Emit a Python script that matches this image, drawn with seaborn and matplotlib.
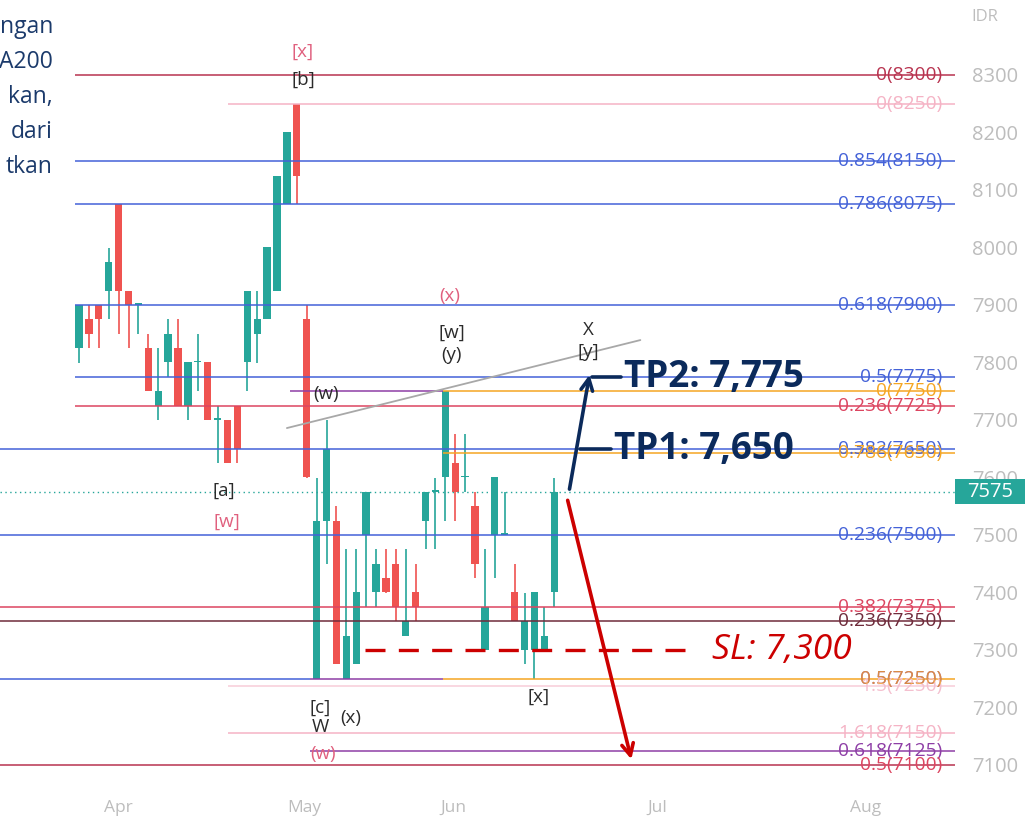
import numpy as np
import pandas as pd
import matplotlib
matplotlib.use("Agg")
import matplotlib.pyplot as plt
import seaborn as sns
from matplotlib.patches import Rectangle

# ---------------- data ----------------
opens  = [7825, 7875, 7900, 7925, 8075, 7925, 7900, 7825, 7725, 7800,
          7825, 7725, 7800, 7800, 7700, 7700, 7725, 7800, 7850, 7875,
          7925, 8075, 8250, 7875, 7250, 7525, 7525, 7250, 7275, 7500,
          7400, 7425, 7450, 7325, 7400, 7525, 7575, 7600, 7625, 7600,
          7550, 7300, 7500, 7500, 7400, 7300, 7300, 7300, 7400]
highs  = [7900, 7900, 7900, 8000, 8075, 7925, 7900, 7850, 7825, 7875,
          7875, 7800, 7850, 7800, 7725, 7700, 7725, 7925, 7925, 8000,
          8125, 8200, 8250, 7900, 7600, 7700, 7550, 7475, 7475, 7575,
          7475, 7475, 7475, 7475, 7450, 7575, 7600, 7750, 7675, 7675,
          7575, 7475, 7600, 7575, 7450, 7400, 7400, 7375, 7600]
lows   = [7800, 7825, 7825, 7875, 7850, 7825, 7850, 7750, 7700, 7775,
          7725, 7700, 7750, 7700, 7625, 7625, 7625, 7750, 7800, 7875,
          7925, 8075, 8075, 7600, 7250, 7450, 7275, 7250, 7275, 7375,
          7375, 7400, 7350, 7325, 7350, 7475, 7475, 7525, 7525, 7575,
          7425, 7300, 7425, 7500, 7350, 7275, 7250, 7300, 7375]
closes = [7900, 7850, 7875, 7975, 7925, 7900, 7900, 7750, 7750, 7850,
          7725, 7800, 7800, 7700, 7700, 7625, 7650, 7925, 7875, 8000,
          8125, 8200, 8125, 7600, 7525, 7650, 7275, 7325, 7400, 7575,
          7450, 7400, 7375, 7350, 7375, 7575, 7575, 7750, 7575, 7600,
          7450, 7375, 7600, 7500, 7350, 7350, 7400, 7325, 7575]

month_labels = ["Apr", "May", "Jun", "Jul", "Aug"]
month_pos = [4.0, 22.8, 37.8, 58.4, 79.5]
y_ticks = list(range(7100, 8301, 100))
last_price = 7575
tp1, tp2, sl = 7650, 7775, 7300

fib_prices = [8300, 8250, 8150, 8075, 7900, 7775, 7750, 7725, 7650, 7643,
              7500, 7375, 7350, 7250, 7237, 7155, 7125, 7100]
fib_labels = ["0(8300)", "0(8250)", "0.854(8150)", "0.786(8075)", "0.618(7900)",
              "0.5(7775)", "0(7750)", "0.236(7725)", "0.382(7650)", "0.786(7650)",
              "0.236(7500)", "0.382(7375)", "0.236(7350)", "0.5(7250)", "1.5(7250)",
              "1.618(7150)", "0.618(7125)", "0.5(7100)"]

trend_x = [21.0, 56.7]
trend_y = [7686, 7839]

left_text = ["ngan", "A200", "kan,", "dari", "tkan"]

# ---------------- layout helpers (pixel calibration) ----------------
W, H = 1025, 819
X0, DX = 79.0, 9.9        # px of first bar, px per bar
Y0, KY = 75.0, 0.575      # px of 8300, px per IDR
def bx(px):
    return (px - X0) / DX
def py(ypx):
    return 8300 - (ypx - Y0) / KY

BLUE = "#4462d8"
RED = "#dc4560"
DRED = "#b8334f"
ORANGE = "#f5a623"
PURPLE = "#8e3ea6"
MAROON = "#6f2b3b"
PINK = "#f5b3c5"
GREEN = "#26a69a"
CRED = "#ef5350"

fib_segments = [
    [(75, 955, DRED)],
    [(228, 955, PINK)],
    [(75, 955, BLUE)],
    [(75, 955, BLUE)],
    [(75, 955, BLUE)],
    [(75, 955, BLUE)],
    [(290, 443, PURPLE), (443, 955, ORANGE)],
    [(75, 955, RED)],
    [(0, 955, BLUE)],
    [(443, 955, ORANGE)],
    [(0, 955, BLUE)],
    [(0, 955, RED)],
    [(0, 955, MAROON)],
    [(0, 310, BLUE), (310, 443, PURPLE), (443, 955, ORANGE)],
    [(228, 955, "#f8cdd8")],
    [(228, 955, PINK)],
    [(310, 955, PURPLE)],
    [(0, 955, DRED)],
]
fib_label_colors = [DRED, PINK, BLUE, BLUE, BLUE, BLUE, ORANGE, RED, BLUE, ORANGE,
                    BLUE, RED, MAROON, PURPLE, "#f4c0cf", PINK, PURPLE, RED]

wave_labels = [
    ("[x]", 303, 52, "#e0607e"), ("[b]", 303, 80, "#2b2b2b"),
    ("(x)", 450, 296, "#e0607e"), ("[w]", 452, 333, "#2b2b2b"),
    ("(y)", 452, 355, "#2b2b2b"), ("X", 588, 330, "#2b2b2b"),
    ("[y]", 588, 352, "#2b2b2b"), ("(w)", 326, 394, "#2b2b2b"),
    ("[a]", 224, 491, "#2b2b2b"), ("[w]", 227, 522, "#e0607e"),
    ("[c]", 320, 708, "#2b2b2b"), ("W", 320, 727, "#2b2b2b"),
    ("(x)", 351, 718, "#2b2b2b"), ("(w)", 323, 754, "#e0607e"),
    ("[x]", 539, 697, "#2b2b2b"),
]

# ---------------- figure ----------------
sns.set_theme(style="white")
plt.rcParams["font.family"] = ["Open Sans", "DejaVu Sans"]

fig = plt.figure(figsize=(W / 100, H / 100), dpi=100)
fig.patch.set_facecolor("white")
ax = fig.add_axes([0, 29 / H, 955 / W, 790 / H])
ax.set_facecolor("white")

df = pd.DataFrame({"o": opens, "h": highs, "l": lows, "c": closes})
df["i"] = np.arange(len(df))
df["col"] = np.where(df["c"] >= df["o"], GREEN, CRED)
df["bot"] = df[["o", "c"]].min(axis=1)
df["hgt"] = (df["c"] - df["o"]).abs().clip(lower=3)

ax.vlines(df["i"], df["l"], df["h"], colors=df["col"], lw=1.2, zorder=2)
ax.bar(df["i"], df["hgt"], bottom=df["bot"], width=0.74, color=df["col"],
       linewidth=0, zorder=3)

# fib levels
for price, segs in zip(fib_prices, fib_segments):
    for x1, x2, col in segs:
        ax.plot([bx(x1), bx(x2)], [price, price], color=col, lw=1.1, zorder=4,
                solid_capstyle="butt")
for price, lab, col in zip(fib_prices, fib_labels, fib_label_colors):
    ax.text(bx(942), price, lab, color=col, fontsize=13.8, ha="right",
            va="center", zorder=5)
# orange overlay of 0.5(7250)
ax.text(bx(942), 7250, "0.5(7250)", color=ORANGE, fontsize=13.8, ha="right",
        va="center", zorder=5, alpha=0.75)

# current price dotted line
ax.plot([bx(0), bx(955)], [last_price, last_price], color=GREEN, lw=1.0,
        ls=(0, (1, 2.5)), zorder=4)

# trendline
sns.lineplot(x=trend_x, y=trend_y, ax=ax, color="#a8a8a8", lw=1.3, zorder=4)

# SL dashed
ax.plot([bx(365), bx(690)], [sl, sl], color="#cc0000", lw=2.4,
        ls=(0, (6, 4)), zorder=6)
ax.text(bx(712), sl, "SL: 7,300", color="#cc0000", fontsize=25.5,
        fontstyle="italic", ha="left", va="center", zorder=7)

# arrows
ax.annotate("", xy=(bx(590), py(372)), xytext=(bx(569), last_price),
            arrowprops=dict(arrowstyle="->,head_length=0.7,head_width=0.35",
                            color="#0b2a5b", lw=2.6), zorder=7)
ax.annotate("", xy=(bx(632), py(762)), xytext=(bx(567), last_price - 10),
            arrowprops=dict(arrowstyle="->,head_length=0.7,head_width=0.35",
                            color="#cc0000", lw=2.6), zorder=7)
ax.plot([bx(592), bx(621)], [tp2, tp2], color="#0b2a5b", lw=2.6, zorder=7)
ax.plot([bx(580), bx(611)], [tp1, tp1], color="#0b2a5b", lw=2.6, zorder=7)
ax.text(bx(624), tp2, "TP2: 7,775", color="#0b2a5b", fontsize=26.5,
        fontweight="bold", ha="left", va="center", zorder=7)
ax.text(bx(614), tp1, "TP1: 7,650", color="#0b2a5b", fontsize=26.5,
        fontweight="bold", ha="left", va="center", zorder=7)

# wave labels
for t, xp, yp, col in wave_labels:
    ax.text(bx(xp), py(yp), t, color=col, fontsize=13.5, ha="center",
            va="center", zorder=6)

# axes formatting
ax.set_xlim(bx(0), bx(955))
ax.set_ylim(py(790), py(0))
ax.yaxis.tick_right()
ax.set_yticks(y_ticks)
ax.set_yticklabels([str(v) for v in y_ticks])
ax.tick_params(axis="y", length=0, pad=12, labelsize=14.5, labelcolor="#bdbdbd")
ax.set_xticks(month_pos)
ax.set_xticklabels(month_labels)
ax.tick_params(axis="x", length=0, pad=7, labelsize=12.5, labelcolor="#bdbdbd")
for s in ax.spines.values():
    s.set_visible(False)
ax.grid(False)

# current price box
tr = ax.get_yaxis_transform()
bh = 25 / KY
ax.add_patch(Rectangle((1.0, last_price - bh / 2), 70 / 955, bh, transform=tr,
                       facecolor=GREEN, edgecolor="none", clip_on=False, zorder=8))
ax.text(1.0 + 35 / 955, last_price, str(last_price), transform=tr, color="white",
        fontsize=14.5, ha="center", va="center", clip_on=False, zorder=9)

fig.text(985 / W, 1 - 17 / H, "IDR", color="#bdbdbd", fontsize=12,
         ha="center", va="center")

# cropped caption text at top-left
for k, t in enumerate(left_text):
    fig.text(53 / W, 1 - (27 + 35 * k) / H, t, color="#1b3a6b", fontsize=16.5,
             ha="right", va="center")

fig.savefig("out.png", dpi=100, facecolor="white")
